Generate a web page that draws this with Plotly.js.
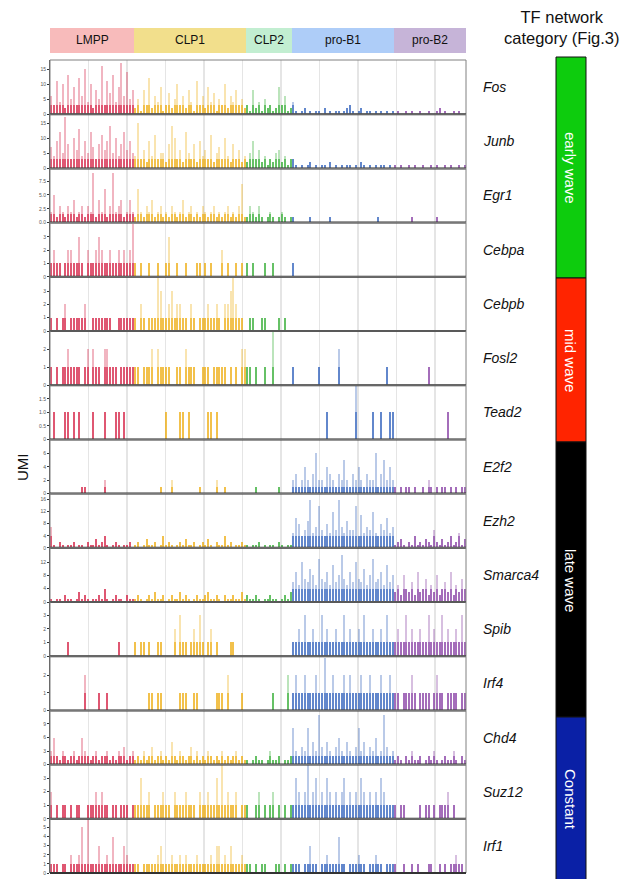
<!DOCTYPE html>
<html><head><meta charset="utf-8">
<script src="https://cdn.plot.ly/plotly-3.0.1.min.js"></script>
<style>html,body{margin:0;padding:0;background:#fff}#chart{width:626px;height:879px}</style>
</head><body><div id="chart"></div>
<script>
// ---------- categories ----------
const groupNames = ['LMPP', 'CLP1', 'CLP2', 'pro-B1', 'pro-B2'];
const cellCounts = [30, 40, 16, 36, 26];
const genes = ['Fos','Junb','Egr1','Cebpa','Cebpb','Fosl2','Tead2','E2f2','Ezh2','Smarca4','Spib','Irf4','Chd4','Suz12','Irf1'];
const categoryNames = ['early wave', 'mid wave', 'late wave', 'Constant'];

// ---------- tick labels per panel ----------
const yTickVals = [[0,5,10,15],[0,5,10,15],[0,2.5,5,7.5],[0,1,2,3],[0,1,2,3],[0,1,2],[0,0.5,1,1.5],
  [0,2,4,6],[0,4,8,12,16],[0,4,8,12],[0,1,2,3],[0,1,2],[0,3,6,9],[0,1,2,3],[0,1,2,3,4,5]];
const yTickText = [['0','5','10','15'],['0','5','10','15'],['0.0','2.5','5.0','7.5'],['0','1','2','3'],['0','1','2','3'],['0','1','2'],['0','0.5','1.0','1.5'],
  ['0','2','4','6'],['0','4','8','12','16'],['0','4','8','12'],['0','1','2','3'],['0','1','2'],['0','3','6','9'],['0','1','2','3'],['0','1','2','3','4','5']];

// ---------- UMI values per cell (LMPP, CLP1, CLP2, pro-B1, pro-B2) ----------
const fos = [
 [6,3,11,4,10,2,13,5,9,3, 12,6,15,4,10,2,8,5,16,3, 11,7,13,4,9,17,6,14,5,8],
 [2,5,1,8,3,12,2,6,4,9, 1,3,7,2,5,10,3,6,2,8, 4,1,11,3,6,2,9,4,7,1, 5,3,10,2,6,4,8,3,5,2],
 [3,1,8,2,4,1,5,2,3,1, 2,9,3,6,1,2],
 [4,1,0,1,2,0,1,0,1,1, 0,2,0,1,0,1,1,0,1,2, 3,1,0,1,2,0,1,1,0,1, 0,1,0,1,0,1],
 [0,1,0,0,1,0,1,0,0,1, 0,0,1,0,0,1,2,0,1,0, 0,1,0,1,0,0]];
const junb = [
 [7,4,9,12,5,17,8,3,10,6, 13,4,9,5,12,7,3,8,11,6, 9,14,5,10,4,8,12,6,9,5],
 [4,15,3,6,2,9,4,11,3,5, 5,2,8,14,10,3,6,2,12,5, 3,8,2,9,4,6,3,11,2,5, 7,3,10,4,2,8,3,6,2,4],
 [2,5,9,3,6,2,4,1,3,2, 5,6,2,4,1,3],
 [3,1,0,1,0,1,2,0,1,0, 1,1,0,2,0,1,0,1,0,1, 1,0,1,0,2,1,0,1,0,1, 0,1,1,0,1,0],
 [1,0,1,0,0,1,0,1,0,0, 1,0,0,1,0,1,0,0,1,0, 1,0,0,1,0,1]];
const egr1 = [
 [2,5,1,3,2,1,3,2,4,1, 2,3,1,3,2,9,1,4,2,6, 1,3,9,2,3,4,1,2,4,2],
 [1,6,2,1,3,2,4,1,2,3, 1,2,1,3,2,1,2,4,1,2, 3,1,2,1,3,2,1,2,3,1, 2,1,2,3,1,2,1,3,7,1],
 [1,3,2,1,3,1,0,1,2,1, 0,1,2,1,0,1],
 [1,0,0,0,0,0,1,0,0,0, 0,0,0,1,0,0,0,0,0,0, 0,0,0,0,0,0,0,0,0,0, 1,0,0,0,0,0],
 [0,0,0,0,0,0,1,0,0,0, 0,0,0,0,0,1,0,0,0,0, 0,0,0,0,0,0]];
const cebpa = [
 [1,2,1,1,0,1,2,2,1,1, 3,1,0,2,1,1,2,3,2,1, 1,2,1,1,2,1,2,1,2,4],
 [1,0,1,0,0,1,0,0,1,0, 0,1,3,0,0,1,0,0,1,0, 0,0,1,1,0,1,0,1,0,0, 0,2,0,1,0,0,1,0,1,0],
 [1,0,1,0,0,0,1,0,0,1, 0,0,0,0,0,0],
 [1,0,0,0,0,0,0,0,0,0, 0,0,0,0,0,0,0,0,0,0, 0,0,0,0,0,0,0,0,0,0, 0,0,0,0,0,0],
 [0,0,0,0,0,0,0,0,0,0, 0,0,0,0,0,0,0,0,0,0, 0,0,0,0,0,0]];
const cebpb = [
 [1,0,1,0,1,2,0,1,1,1, 1,1,2,0,0,1,1,1,1,1, 1,1,0,0,1,1,1,1,1,1],
 [1,0,2,1,0,1,1,1,4,3, 1,1,2,3,1,2,2,1,1,0, 2,1,0,1,1,1,2,1,1,2, 1,0,2,2,3,4,2,1,1,0],
 [0,1,1,0,0,1,1,0,0,0, 0,1,0,1,0,0],
 [0,0,0,0,0,0,0,0,0,0, 0,0,0,0,0,0,0,0,0,0, 0,0,0,0,0,0,0,0,0,0, 0,0,0,0,0,0],
 [0,0,0,0,0,0,0,0,0,0, 0,0,0,0,0,0,0,0,0,0, 0,0,0,0,0,0]];
const fosl2 = [
 [1,0,1,0,1,1,2,1,1,1, 1,0,1,2,0,2,1,1,0,2, 2,1,1,1,0,1,1,1,1,1],
 [1,1,0,1,1,1,2,0,2,1, 1,1,1,0,0,1,1,0,2,1, 1,1,0,0,1,1,1,0,1,1, 1,1,1,0,1,0,1,0,2,2],
 [1,1,0,1,0,0,1,0,0,3, 0,0,0,0,0,0],
 [1,0,0,0,0,0,0,0,0,1, 0,0,0,0,0,0,2,0,0,0, 0,0,0,0,0,0,0,0,0,0, 0,0,0,1,0,0],
 [0,0,0,0,0,0,0,0,0,0, 0,0,1,0,0,0,0,0,0,0, 0,0,0,0,0,0]];
const tead2 = [
 [0,1,0,0,0,1,1,0,1,0, 1,0,0,0,0,1,0,0,0,1, 0,0,0,1,1,0,1,0,0,0],
 [0,0,0,0,0,0,0,0,0,0, 0,1,0,0,0,0,1,1,0,1, 0,0,0,0,0,0,1,1,0,1, 0,0,0,0,0,0,0,0,0,0],
 [0,0,0,0,0,0,0,0,0,0, 0,0,0,0,0,0],
 [0,0,0,0,0,0,0,0,0,0, 0,0,1,0,0,0,0,0,0,0, 0,0,2,0,0,0,0,0,1,0, 0,1,0,0,1,1],
 [0,0,0,0,0,0,0,0,0,0, 0,0,0,0,0,0,0,0,0,1, 0,0,0,0,0,0]];
const e2f2 = [
 [0,0,0,0,0,0,0,0,0,0, 0,1,1,0,0,0,0,0,0,2, 0,0,0,0,0,0,0,0,0,0],
 [0,0,0,0,0,0,0,0,0,1, 0,0,0,2,0,0,0,0,0,0, 0,0,0,1,0,0,0,0,0,2, 0,0,1,0,0,0,0,0,0,0],
 [0,0,0,1,0,0,0,0,0,0, 0,1,0,0,0,0],
 [2,3,1,2,4,2,1,3,6,2, 2,1,4,3,2,1,3,2,5,2, 1,3,2,4,2,1,3,2,2,6, 1,3,5,2,4,2],
 [1,0,1,0,1,1,0,1,0,0, 1,0,2,1,0,1,0,1,1,0, 1,0,1,0,1,1]];
const ezh2 = [
 [7,1,0,2,1,0,1,1,2,0, 1,1,0,2,1,1,3,1,2,4, 1,0,1,2,1,0,1,1,2,0],
 [1,2,0,1,3,1,1,2,0,1, 4,1,2,1,0,1,2,1,3,1, 1,2,0,1,2,1,3,1,0,2, 1,1,4,1,2,0,1,1,2,1],
 [1,0,1,1,2,0,1,0,1,1, 0,2,1,0,1,1],
 [5,10,8,4,6,9,16,5,7,14, 6,4,8,5,12,6,16,7,5,9, 6,6,14,4,11,5,7,6,12,5, 4,8,6,10,5,7],
 [1,2,3,1,0,2,1,4,1,2, 1,3,2,1,6,2,1,3,1,2, 4,1,2,5,1,3]];
const smarca4 = [
 [1,0,1,1,0,2,1,1,0,1, 3,1,2,1,0,1,1,2,1,4, 1,0,1,2,1,1,0,2,1,1],
 [1,2,1,0,1,2,1,3,1,1, 2,0,1,2,1,1,3,1,2,1, 0,1,2,1,1,2,3,1,1,2, 1,0,2,1,1,2,1,1,3,1],
 [2,1,1,2,1,0,1,1,2,1, 1,0,1,2,1,3],
 [6,9,5,12,7,6,10,8,5,13, 7,6,9,5,11,6,8,14,7,5, 9,6,12,7,6,10,5,8,13,6, 7,9,5,11,6,8],
 [3,5,2,8,4,3,6,2,9,3, 4,7,2,5,3,8,2,4,6,3, 9,2,5,3,7,4]];
const spib = [
 [0,0,0,0,0,0,1,0,0,0, 0,0,0,0,0,0,0,0,0,0, 0,0,0,0,1,0,0,0,0,0],
 [1,0,1,1,0,1,0,0,1,1, 0,0,0,0,2,0,3,1,1,0, 1,2,1,3,1,0,1,2,0,1, 0,0,0,0,1,1,0,0,0,0],
 [0,0,0,0,0,0,0,0,0,0, 0,0,0,0,0,0],
 [1,1,2,1,3,1,1,2,1,1, 3,1,2,1,1,2,1,1,3,1, 2,1,1,2,1,3,1,1,2,1, 1,2,1,3,1,1],
 [1,2,1,1,3,1,2,1,1,2, 1,1,3,1,2,1,1,3,1,2, 1,1,2,1,3,1]];
const irf4 = [
 [0,0,0,0,0,0,0,0,0,0, 0,0,2,0,0,0,0,1,0,0, 1,0,0,0,0,0,0,0,0,0],
 [0,0,0,0,0,1,1,0,1,1, 0,0,0,0,0,0,1,1,1,0, 0,1,1,0,0,0,0,0,0,1, 1,1,0,2,0,0,0,0,1,0],
 [0,0,0,0,0,0,0,0,0,1, 0,0,0,0,2,0],
 [1,2,1,1,2,1,1,1,2,1, 1,3,1,1,2,1,1,1,2,1, 2,1,1,1,2,1,1,2,1,1, 1,2,1,1,2,1],
 [1,1,0,1,1,1,2,1,0,1, 1,1,1,0,1,2,1,1,0,1, 1,1,1,0,1,1]];
const chd4 = [
 [3,6,2,1,3,2,1,2,3,1, 2,6,3,2,1,2,3,1,2,2, 3,1,2,1,3,2,4,1,2,3],
 [1,2,1,3,1,2,4,1,2,3, 1,2,1,5,2,1,3,2,1,2, 4,1,3,1,2,1,3,2,1,2, 1,3,1,2,1,2,3,1,2,1],
 [1,0,1,2,1,1,0,1,3,1, 1,2,0,1,1,2],
 [8,3,2,4,3,8,2,5,3,11, 4,2,5,3,2,4,6,3,2,5, 3,2,4,8,3,5,2,4,3,6, 2,3,11,4,2,3],
 [1,2,1,0,2,1,3,1,1,2, 0,1,2,1,3,1,0,1,2,1, 1,3,1,0,2,1]];
const suz12 = [
 [2,0,1,0,1,1,0,1,0,1, 1,0,0,1,1,1,2,1,2,1, 1,0,1,1,0,1,1,1,0,1],
 [1,1,3,1,1,2,0,1,1,1, 2,1,1,0,2,1,1,1,2,1, 1,1,0,2,1,1,2,1,1,3, 1,4,1,2,1,1,2,0,1,1],
 [1,0,0,1,2,0,1,0,1,2, 0,1,0,1,0,1],
 [1,3,2,1,2,4,1,2,3,1, 2,1,3,2,1,2,1,2,3,1, 2,1,2,1,3,2,1,2,1,2, 1,3,2,1,1,1],
 [1,0,1,1,0,0,0,0,0,1, 0,1,1,0,1,0,1,1,1,2, 0,1,0,0,0,0]];
const irf1 = [
 [1,1,1,0,1,1,0,2,1,1, 2,5,1,6,1,1,1,3,1,1, 2,1,4,1,1,1,3,2,1,1],
 [1,1,0,1,1,1,1,1,2,3, 1,1,1,2,1,1,2,1,2,1, 1,1,2,1,1,1,1,2,1,3, 3,1,2,1,3,1,1,1,2,1],
 [1,1,0,1,0,1,1,0,0,0, 1,1,0,1,0,1],
 [1,1,1,0,1,1,3,1,1,0, 1,1,2,1,1,1,4,1,1,0, 1,1,1,2,1,1,0,1,1,2, 1,1,0,1,1,1],
 [1,0,0,1,0,0,1,0,1,0, 0,0,1,1,0,0,1,0,1,0, 1,1,2,1,1,0]];
const geneValues = [fos, junb, egr1, cebpa, cebpb, fosl2, tead2, e2f2, ezh2, smarca4, spib, irf4, chd4, suz12, irf1];

// ---------- layout / style constants ----------
const yTop = [18, 18, 9.8, 4.07, 4.07, 3.0, 2.0, 8.1, 18, 16.3, 3.95, 3.1, 12, 4.0, 5.95];
const shadeCap = [3, 3, 1.5, 1, 1, 1, 1, 1, 4, 4, 1, 1, 2, 1, 1];  // height of the densely shaded base band
const groupEdges = [0, 84, 196, 242, 344, 416];   // x-axis units (= pixels of plot width)
const barRGB = ['212,25,62', '236,170,10', '45,170,45', '40,90,185', '130,55,160'];
const headerColors = ['#F8BBBB', '#F2DF8C', '#C2EED1', '#AECDF8', '#C6B4D8'];
const catColors = ['#0DCC0D', '#FF2400', '#000000', '#0A20A6'];
const catPx = [57, 278, 442, 717, 885];
const catLabelPx = [168, 360, 580, 799];

const W = 626, H = 879, ML = 50, MR = 160, MT = 60, MB = 6;
const PW = W - ML - MR, PH = H - MT - MB;
const px2x = p => (p - ML) / PW;
const py2y = p => (H - MB - p) / PH;
const FONT = 'Liberation Sans, Arial, Helvetica, sans-serif';
const N = genes.length;

const traces = [];
const shapes = [];
const annotations = [];
const layout = {
  width: W, height: H, margin: {l: ML, r: MR, t: MT, b: MB, pad: 0},
  paper_bgcolor: '#fff', plot_bgcolor: 'rgba(0,0,0,0)',
  showlegend: false, barmode: 'overlay', bargap: 0,
  font: {family: FONT, color: '#000'},
  xaxis: {range: [0, 416], showgrid: true, gridcolor: '#e5e5e5', gridwidth: 1.5,
          tick0: 38.5, dtick: 38.5, showticklabels: false, ticks: '', zeroline: false,
          showline: false, anchor: 'y' + N, fixedrange: true},
  shapes: shapes, annotations: annotations
};

genes.forEach((g, k) => {
  const yid = k === 0 ? 'y' : 'y' + (k + 1);
  const yname = k === 0 ? 'yaxis' : 'yaxis' + (k + 1);
  layout[yname] = {
    domain: [1 - (k + 1) / N, 1 - k / N], range: [0, yTop[k]], anchor: 'x',
    tickvals: yTickVals[k], ticktext: yTickText[k], ticks: 'outside', ticklen: 2,
    tickwidth: 1, tickcolor: '#333', tickfont: {size: 5, color: '#555', family: FONT},
    showgrid: false, zeroline: false, showline: true, linecolor: '#555', linewidth: 1,
    fixedrange: true
  };
  geneValues[k].forEach((vals, gi) => {
    const n = cellCounts[gi];
    const slot = (groupEdges[gi + 1] - groupEdges[gi]) / n;
    const xs = vals.map((v, i) => groupEdges[gi] + (i + 0.5) * slot);
    // full bar, pale
    traces.push({
      type: 'bar', x: xs, y: vals, width: slot * 0.72, xaxis: 'x', yaxis: yid,
      marker: {color: 'rgba(' + barRGB[gi] + ',0.32)', line: {width: 0}},
      hoverinfo: 'skip', showlegend: false
    });
    // lower part of the same bars, darker (dense base band look)
    traces.push({
      type: 'bar', x: xs, y: vals.map(v => Math.min(v, shadeCap[k])), width: slot * 0.72,
      xaxis: 'x', yaxis: yid,
      marker: {color: 'rgba(' + barRGB[gi] + ',0.6)', line: {width: 0}},
      hoverinfo: 'skip', showlegend: false
    });
  });
  // panel frame
  shapes.push({type: 'rect', xref: 'paper', yref: yid + ' domain', x0: 0, x1: 1, y0: 0, y1: 1,
               line: {color: '#808080', width: 1}, fillcolor: 'rgba(0,0,0,0)', layer: 'above'});
  shapes.push({type: 'line', xref: 'paper', yref: yid + ' domain', x0: 0, x1: 1, y0: 0, y1: 0,
               line: {color: '#333', width: 2}, layer: 'above'});
  annotations.push({xref: 'paper', yref: yid + ' domain', x: px2x(481), y: 0.5, xanchor: 'left',
                    yanchor: 'middle', text: '<i>' + g + '</i>', showarrow: false,
                    font: {size: 14, family: FONT, color: '#111'}});
});

// header band
groupNames.forEach((gname, gi) => {
  shapes.push({type: 'rect', xref: 'x', yref: 'paper', x0: groupEdges[gi], x1: groupEdges[gi + 1],
               y0: py2y(53), y1: py2y(28), fillcolor: headerColors[gi], line: {width: 0}});
  annotations.push({xref: 'x', yref: 'paper', x: (groupEdges[gi] + groupEdges[gi + 1]) / 2,
                    y: py2y(40.5), text: gname, showarrow: false, xanchor: 'center', yanchor: 'middle',
                    font: {size: 12, family: FONT, color: '#111'}});
});

// TF network category bar
categoryNames.forEach((c, ci) => {
  shapes.push({type: 'rect', xref: 'paper', yref: 'paper', x0: px2x(556), x1: px2x(586),
               y0: py2y(catPx[ci + 1]), y1: py2y(catPx[ci]), fillcolor: catColors[ci],
               line: {color: '#111', width: 1}});
  annotations.push({xref: 'paper', yref: 'paper', x: px2x(571), y: py2y(catLabelPx[ci]), text: c,
                    textangle: 90, showarrow: false, xanchor: 'center', yanchor: 'middle',
                    font: {size: 15, family: FONT, color: '#fff'}});
});
annotations.push({xref: 'paper', yref: 'paper', x: px2x(562), y: py2y(27), text: 'TF network<br>category (Fig.3)',
                  showarrow: false, xanchor: 'center', yanchor: 'middle', align: 'center',
                  font: {size: 16.5, family: FONT, color: '#111'}});
annotations.push({xref: 'paper', yref: 'paper', x: px2x(22), y: py2y(467), text: 'UMI', textangle: -90,
                  showarrow: false, xanchor: 'center', yanchor: 'middle',
                  font: {size: 15, family: FONT, color: '#111'}});

Plotly.newPlot('chart', traces, layout, {displayModeBar: false, staticPlot: true});
</script></body></html>
